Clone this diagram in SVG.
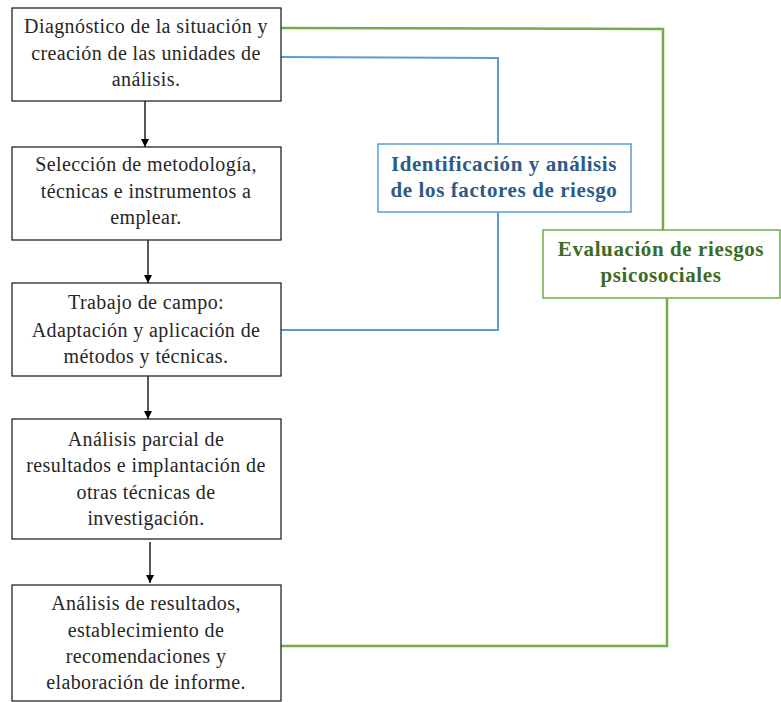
<svg xmlns="http://www.w3.org/2000/svg" width="781" height="702" viewBox="0 0 781 702">
<style>
.box{fill:#fff;stroke:#262626;stroke-width:1.3}
text{font-family:'Liberation Serif','Times New Roman','DejaVu Serif',serif}
.t{font-size:20px;letter-spacing:0.4px;fill:#262626;text-anchor:middle}
.tb{font-size:21px;letter-spacing:0.6px;font-weight:bold;text-anchor:middle}
.arr{stroke:#000;stroke-width:1.3;fill:none;marker-end:url(#ah)}
.g{stroke:#70AD47;stroke-width:2.5;fill:none}
.b{stroke:#5B9BD5;stroke-width:2;fill:none}
</style>
<defs>
<marker id="ah" viewBox="0 0 10 10" refX="10" refY="5" markerWidth="8" markerHeight="8" markerUnits="userSpaceOnUse" orient="auto">
<path d="M0,0 L10,5 L0,10 z" fill="#000"/>
</marker>
</defs>
<rect width="781" height="702" fill="#fff"/>
<g id="connectors">
<path class="arr" d="M145,101 V147"/>
<path class="arr" d="M148,240 V283"/>
<path class="arr" d="M148,376 V419"/>
<path class="arr" d="M150,542 V583"/>
<path class="g" d="M281,28 L663,29 V230"/>
<path class="g" d="M667,298 V646 H281"/>
<path class="b" d="M281,57 L498,58 V144"/>
<path class="b" d="M498,212 V330 H281"/>
</g>
<g id="n1">
<rect class="box" x="12" y="8" width="269" height="93"/>
<text class="t" x="146" y="33">Diagnóstico de la situación y</text>
<text class="t" x="146" y="60">creación de las unidades de</text>
<text class="t" x="146" y="86">análisis.</text>
</g>
<g id="n2">
<rect class="box" x="12" y="147" width="269" height="93"/>
<text class="t" x="146" y="171">Selección de metodología,</text>
<text class="t" x="146" y="198">técnicas e instrumentos a</text>
<text class="t" x="146" y="224">emplear.</text>
</g>
<g id="n3">
<rect class="box" x="12" y="283" width="269" height="93"/>
<text class="t" x="146" y="309">Trabajo de campo:</text>
<text class="t" x="146" y="337">Adaptación y aplicación de</text>
<text class="t" x="146" y="363">métodos y técnicas.</text>
</g>
<g id="n4">
<rect class="box" x="12" y="419" width="269" height="120"/>
<text class="t" x="146" y="446">Análisis parcial de</text>
<text class="t" x="146" y="472">resultados e implantación de</text>
<text class="t" x="146" y="499">otras técnicas de</text>
<text class="t" x="146" y="525">investigación.</text>
</g>
<g id="n5">
<rect class="box" x="12" y="585" width="269" height="116"/>
<text class="t" x="146" y="610">Análisis de resultados,</text>
<text class="t" x="146" y="637">establecimiento de</text>
<text class="t" x="146" y="663">recomendaciones y</text>
<text class="t" x="146" y="689">elaboración de informe.</text>
</g>
<g id="n6">
<rect x="378" y="144" width="253" height="68" fill="#fff" stroke="#5B9BD5" stroke-width="1.5"/>
<text class="tb" x="504" y="171" fill="#2E5A88">Identificación y análisis</text>
<text class="tb" x="504" y="197" fill="#2E5A88">de los factores de riesgo</text>
</g>
<g id="n7">
<rect x="543" y="230" width="237" height="68" fill="#fff" stroke="#70AD47" stroke-width="1.5"/>
<text class="tb" x="661" y="256" fill="#3D6B26">Evaluación de riesgos</text>
<text class="tb" x="661" y="282" fill="#3D6B26">psicosociales</text>
</g>
</svg>
